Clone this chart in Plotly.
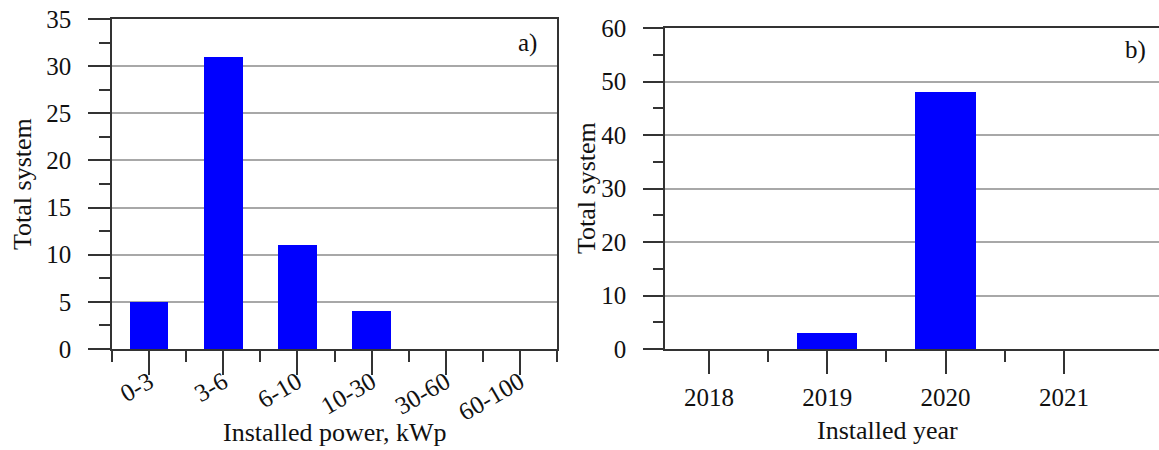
import plotly.graph_objects as go

# Panel a) data
power_cats = ["0-3", "3-6", "6-10", "10-30", "30-60", "60-100"]
power_counts = [5, 31, 11, 4, 0, 0]

# Panel b) data
year_cats = ["2018", "2019", "2020", "2021"]
year_counts = [0, 3, 48, 0]

W, H = 1159, 450
FONT = "Liberation Serif, Times New Roman, serif"
AX = "#333333"
GRID = "#a8a8a8"
BLUE = "#0000ff"

def px(x):
    return x / W

def py(y):
    return 1 - y / H

fig = go.Figure()

pos_a = list(range(len(power_cats)))
pos_b = list(range(len(year_cats)))

fig.add_trace(go.Bar(x=pos_a, y=power_counts, width=0.52, marker=dict(color=BLUE, line=dict(width=0)),
                     xaxis="x", yaxis="y", showlegend=False))
fig.add_trace(go.Bar(x=pos_b, y=year_counts, width=0.51, marker=dict(color=BLUE, line=dict(width=0)),
                     xaxis="x2", yaxis="y2", showlegend=False))

tickfont = dict(family=FONT, size=25, color="#111111")

common_x = dict(showline=True, linecolor=AX, linewidth=1.5, mirror=True, showgrid=False, zeroline=False,
                ticks="outside", tickcolor=AX, tickwidth=1.5, tickfont=tickfont, tickmode="array",
                automargin=False)
common_y = dict(showline=True, linecolor=AX, linewidth=1.5, showgrid=True, gridcolor=GRID, gridwidth=1.5,
                zeroline=False, ticks="outside", tickcolor=AX, tickwidth=1.5, tickfont=tickfont,
                automargin=False, ticklabelstandoff=12)

fig.update_layout(
    width=W, height=H,
    font=dict(family=FONT, size=25, color="#111111"),
    margin=dict(l=0, r=0, t=0, b=0, pad=0, autoexpand=False),
    paper_bgcolor="white", plot_bgcolor="white",
    bargap=0,
    xaxis=dict(domain=[px(112), px(557)], range=[-0.5, len(power_cats) - 0.5],
               tickvals=pos_a, ticktext=power_cats, ticklen=24, tickangle=-30, ticklabelstandoff=-17,
               minor=dict(tickmode="array", tickvals=[i - 0.5 for i in range(len(power_cats) + 1)],
                          ticklen=11, ticks="outside", tickcolor=AX, tickwidth=1.5, showgrid=False),
               anchor="y", **common_x),
    yaxis=dict(domain=[py(349), py(19)], range=[0, 35], dtick=5, ticklen=22, mirror=True,
               minor=dict(dtick=2.5, ticklen=11, ticks="outside", tickcolor=AX, tickwidth=1.5, showgrid=False),
               anchor="x", **common_y),
    xaxis2=dict(domain=[px(665), 1.0], range=[-0.372, 3.804],
                tickvals=pos_b, ticktext=year_cats, ticklen=23, tickangle=0, ticklabelstandoff=2,
                minor=dict(tickmode="array", tickvals=[0.5, 1.5, 2.5],
                           ticklen=11, ticks="outside", tickcolor=AX, tickwidth=1.5, showgrid=False),
                anchor="y2", **common_x),
    yaxis2=dict(domain=[py(349), py(28)], range=[0, 60], dtick=10, ticklen=20, mirror=False,
                minor=dict(dtick=5, ticklen=10, ticks="outside", tickcolor=AX, tickwidth=1.5, showgrid=False),
                anchor="x2", **common_y),
)

titlefont = dict(family=FONT, size=26, color="#111111")
ann = [
    dict(text="Total system", x=px(22), y=py(184), textangle=-90, font=titlefont),
    dict(text="Installed power, kWp", x=px(335), y=py(432), font=titlefont),
    dict(text="Total system", x=px(586), y=py(188), textangle=-90, font=titlefont),
    dict(text="Installed year", x=px(887), y=py(430), font=titlefont),
    dict(text="a)", x=px(527), y=py(43), font=dict(family=FONT, size=25, color="#111111")),
    dict(text="b)", x=px(1135), y=py(50), font=dict(family=FONT, size=25, color="#111111")),
]
for a in ann:
    fig.add_annotation(xref="paper", yref="paper", xanchor="center", yanchor="middle",
                       showarrow=False, **a)

fig.write_html("out.html")
